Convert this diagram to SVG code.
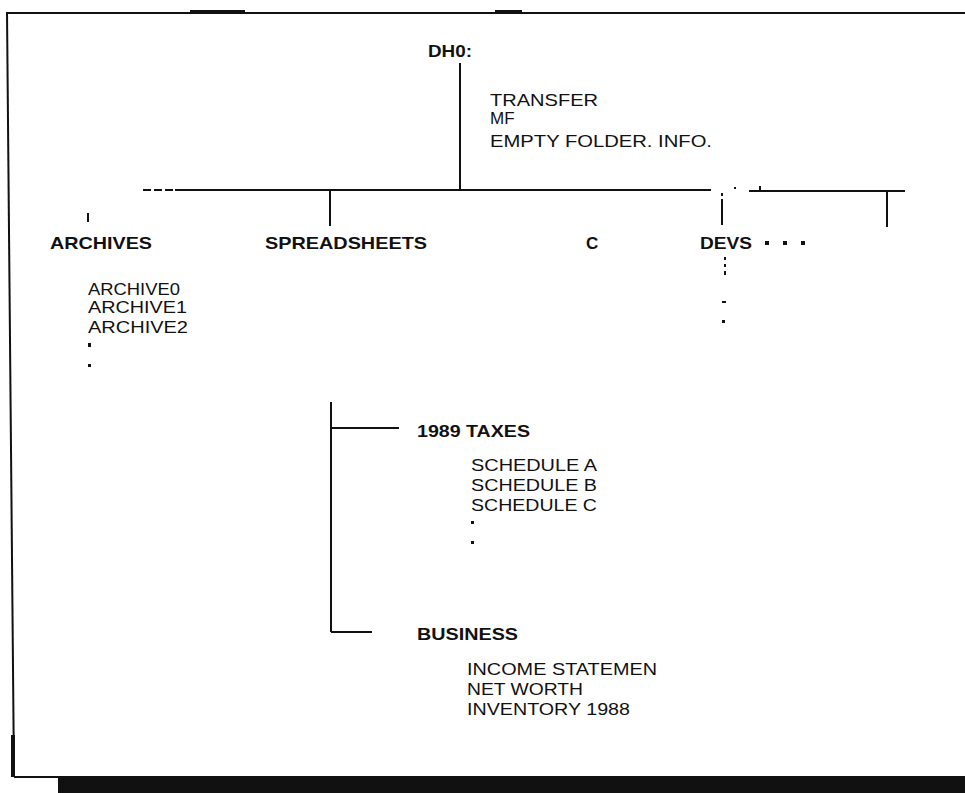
<svg xmlns="http://www.w3.org/2000/svg" width="965" height="793" viewBox="0 0 965 793">
<style>
.h{font-family:"Liberation Sans",Arial,sans-serif;font-size:17px;font-weight:bold;fill:#111}
.t{font-family:"Liberation Sans",Arial,sans-serif;font-size:17px;fill:#111}
.ln{stroke:#111;stroke-width:2;fill:none}
.fr{stroke:#111;stroke-width:2;fill:none}
</style>
<rect width="965" height="793" fill="#fff"/>
<g id="frame">
<rect x="7" y="12" width="958" height="2" fill="#111"/>
<line class="fr" x1="7" y1="12" x2="14" y2="777"/>
<line class="fr" x1="14" y1="777" x2="965" y2="777"/>
<rect x="190" y="10" width="55" height="4" fill="#111"/>
<rect x="495" y="10" width="27" height="4" fill="#111"/>
<rect x="11" y="735" width="4" height="42" fill="#111"/>
<rect x="58" y="777" width="907" height="16" fill="#111"/>
</g>
<g id="connectors">
<line class="ln" x1="460" y1="63" x2="460" y2="190"/>
<line class="ln" x1="143" y1="190" x2="175" y2="190" stroke-dasharray="8,3"/>
<line class="ln" x1="175" y1="190" x2="711" y2="190"/>
<rect x="734" y="187" width="2" height="2" fill="#111"/>
<line class="ln" x1="749" y1="191" x2="905" y2="191"/>
<line class="ln" x1="760" y1="186" x2="760" y2="191"/>
<line class="ln" x1="887" y1="191" x2="887" y2="227"/>
<line class="ln" x1="88" y1="213" x2="88" y2="222"/>
<line class="ln" x1="330" y1="190" x2="330" y2="226"/>
<line class="ln" x1="722" y1="193" x2="722" y2="196"/>
<line class="ln" x1="722" y1="199" x2="722" y2="225"/>
<line class="ln" x1="331" y1="402" x2="331" y2="632"/>
<line class="ln" x1="331" y1="428" x2="399" y2="428"/>
<line class="ln" x1="331" y1="632" x2="372" y2="632"/>
</g>
<g id="node-dh0">
<text class="h" x="428" y="57" textLength="44" lengthAdjust="spacingAndGlyphs">DH0:</text>
<text class="t" x="490" y="106" textLength="108" lengthAdjust="spacingAndGlyphs">TRANSFER</text>
<text class="t" x="490" y="124">MF</text>
<text class="t" x="490" y="147" textLength="222" lengthAdjust="spacingAndGlyphs">EMPTY FOLDER. INFO.</text>
</g>
<g id="node-archives">
<text class="h" x="50" y="249" textLength="102" lengthAdjust="spacingAndGlyphs">ARCHIVES</text>
<text class="t" x="88" y="295" textLength="92" lengthAdjust="spacingAndGlyphs">ARCHIVE0</text>
<text class="t" x="88" y="313" textLength="99" lengthAdjust="spacingAndGlyphs">ARCHIVE1</text>
<text class="t" x="88" y="333" textLength="100" lengthAdjust="spacingAndGlyphs">ARCHIVE2</text>
<rect x="88" y="343" width="3" height="4" fill="#111"/>
<rect x="88" y="364" width="3" height="3" fill="#111"/>
</g>
<g id="node-spreadsheets">
<text class="h" x="265" y="249" textLength="162" lengthAdjust="spacingAndGlyphs">SPREADSHEETS</text>
</g>
<g id="node-c">
<text class="h" x="586" y="249">C</text>
</g>
<g id="node-devs">
<text class="h" x="700" y="249" textLength="52" lengthAdjust="spacingAndGlyphs">DEVS</text>
<rect x="765" y="241" width="4" height="4" fill="#111"/>
<rect x="783" y="241" width="4" height="4" fill="#111"/>
<rect x="801" y="241" width="4" height="4" fill="#111"/>
<rect x="724" y="257" width="2" height="3" fill="#111"/>
<rect x="724" y="264" width="2" height="3" fill="#111"/>
<rect x="724" y="271" width="2" height="4" fill="#111"/>
<rect x="722" y="301" width="4" height="2" fill="#111"/>
<rect x="722" y="320" width="3" height="3" fill="#111"/>
</g>
<g id="node-1989-taxes">
<text class="h" x="417" y="437" textLength="113" lengthAdjust="spacingAndGlyphs">1989 TAXES</text>
<text class="t" x="471" y="471" textLength="126" lengthAdjust="spacingAndGlyphs">SCHEDULE A</text>
<text class="t" x="471" y="491" textLength="126" lengthAdjust="spacingAndGlyphs">SCHEDULE B</text>
<text class="t" x="471" y="511" textLength="126" lengthAdjust="spacingAndGlyphs">SCHEDULE C</text>
<rect x="471" y="521" width="3" height="3" fill="#111"/>
<rect x="471" y="541" width="3" height="3" fill="#111"/>
</g>
<g id="node-business">
<text class="h" x="417" y="640" textLength="101" lengthAdjust="spacingAndGlyphs">BUSINESS</text>
<text class="t" x="467" y="675" textLength="190" lengthAdjust="spacingAndGlyphs">INCOME STATEMEN</text>
<text class="t" x="467" y="695" textLength="116" lengthAdjust="spacingAndGlyphs">NET WORTH</text>
<text class="t" x="467" y="715" textLength="163" lengthAdjust="spacingAndGlyphs">INVENTORY 1988</text>
</g>
</svg>
